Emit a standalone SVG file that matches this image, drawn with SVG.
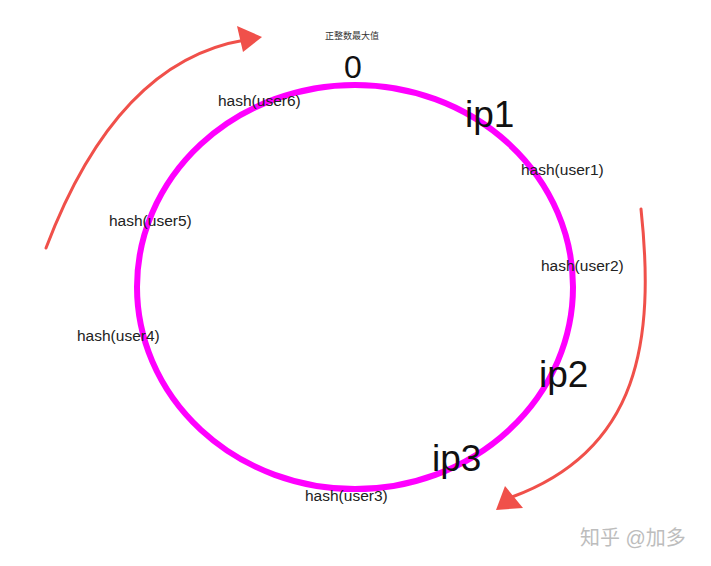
<svg xmlns="http://www.w3.org/2000/svg" width="711" height="566" viewBox="0 0 711 566">
<style>
.lbl{font-family:"Liberation Sans",Arial,sans-serif;font-size:15.5px;fill:#222}
.ip{font-family:"Liberation Sans",Arial,sans-serif;font-size:37px;fill:#111}
.arr{fill:none;stroke:#f0504a;stroke-width:3;stroke-linecap:round}
.head{fill:#f0504a}
</style>
<rect width="711" height="566" fill="#ffffff"/>
<g id="connectors">
<path class="arr" d="M46,248 Q117,61 245,40"/>
<polygon class="head" points="262,37 237,26 243,52"/>
<path class="arr" d="M641,209 C655,340 640,450 512,497"/>
<polygon class="head" points="496,510 505,486 523,508"/>
</g>
<g id="ring">
<ellipse cx="355" cy="287" rx="218" ry="202" fill="none" stroke="#ff00ff" stroke-width="6"/>
</g>
<g id="top">
<text x="325" y="39" font-family="'Liberation Sans','Noto Sans CJK SC',sans-serif" font-size="9" fill="#333">正整数最大值</text>
<text x="344" y="78" font-family="'Liberation Sans',Arial,sans-serif" font-size="32" fill="#111">0</text>
</g>
<g id="ip1"><text class="ip" x="465" y="127">ip1</text></g>
<g id="ip2"><text class="ip" x="539" y="387">ip2</text></g>
<g id="ip3"><text class="ip" x="432" y="471">ip3</text></g>
<g id="user6"><text class="lbl" x="218" y="106">hash(user6)</text></g>
<g id="user1"><text class="lbl" x="521" y="175">hash(user1)</text></g>
<g id="user5"><text class="lbl" x="109" y="226">hash(user5)</text></g>
<g id="user2"><text class="lbl" x="541" y="271">hash(user2)</text></g>
<g id="user4"><text class="lbl" x="77" y="341">hash(user4)</text></g>
<g id="user3"><text class="lbl" x="305" y="501">hash(user3)</text></g>
<g id="watermark"><text x="580" y="545" font-family="'Liberation Sans','Noto Sans CJK SC',sans-serif" font-size="20" fill="#bdbdbd">知乎 @加多</text></g>
</svg>
